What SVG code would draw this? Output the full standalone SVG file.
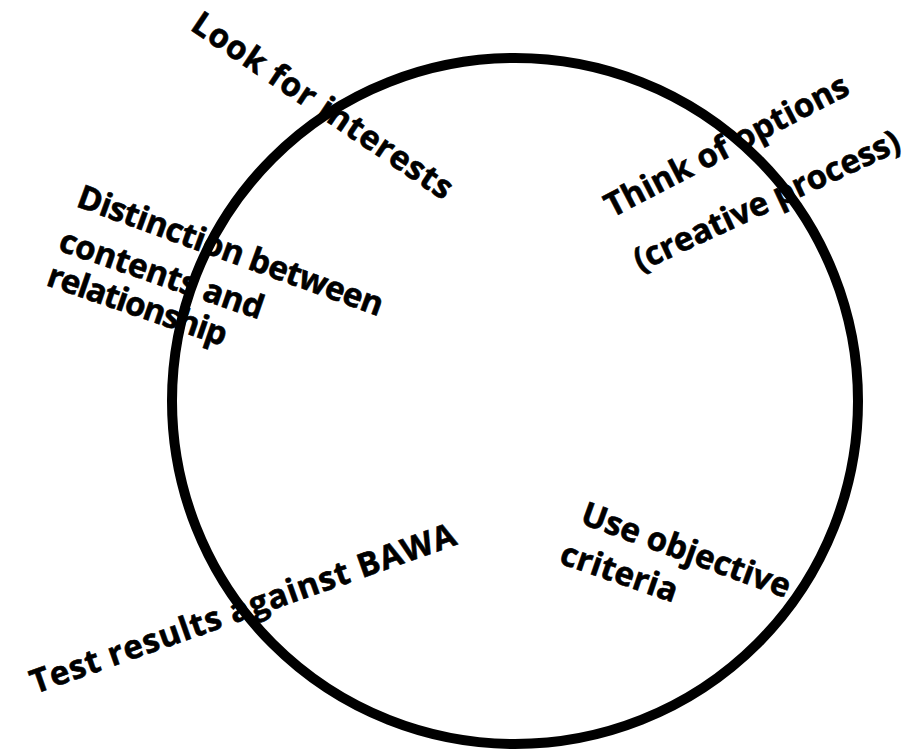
<svg xmlns="http://www.w3.org/2000/svg" width="913" height="751" viewBox="0 0 913 751">
<style>
.lbl{font-family:"Open Sans","DejaVu Sans",sans-serif;font-weight:bold;font-size:33px;fill:#000;stroke:#000;stroke-width:0.6}
.ring{fill:none;stroke:#000;stroke-width:10}
</style>
<rect width="913" height="751" fill="#fff"/>
<g id="cycle"><circle class="ring" cx="515" cy="401" r="343"/></g>
<g id="connectors"></g>
<g id="look-for-interests"><text class="lbl" transform="translate(189,29) rotate(34)" textLength="307">Look for interests</text></g>
<g id="think-of-options"><text class="lbl" transform="translate(612,218) rotate(-27.5)" textLength="270">Think of options</text>
<text class="lbl" transform="translate(640,272) rotate(-25)" textLength="290">(creative process)</text></g>
<g id="distinction"><text class="lbl" transform="translate(75,206) rotate(20)" textLength="323">Distinction between</text>
<text class="lbl" transform="translate(57,250) rotate(19)" textLength="214">contents and</text>
<text class="lbl" transform="translate(45,285) rotate(19)" textLength="188">relationship</text></g>
<g id="objective-criteria"><text class="lbl" transform="translate(579,523) rotate(20)" textLength="220">Use objective</text>
<text class="lbl" transform="translate(558,563) rotate(19)" textLength="122">criteria</text></g>
<g id="test-results"><text class="lbl" transform="translate(35,694) rotate(-19.5)" textLength="449">Test results against BAWA</text></g>
</svg>
